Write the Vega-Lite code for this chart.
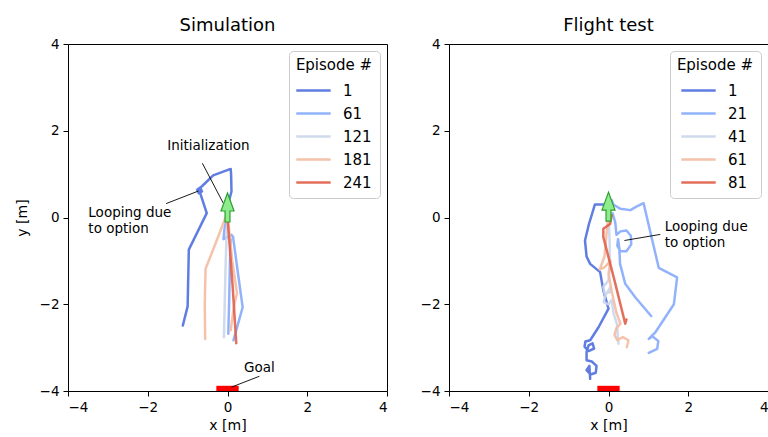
{
  "$schema": "https://vega.github.io/schema/vega-lite/v6.json",
  "padding": {"left": 14, "top": 16, "right": 0, "bottom": 0},
  "spacing": 31,
  "config": {
    "font": "DejaVu Sans",
    "view": {"stroke": "black", "strokeWidth": 1},
    "axis": {"grid": false, "domain": false, "tickColor": "black", "labelColor": "black", "titleColor": "black", "labelFontSize": 13.5, "titleFontSize": 14, "titleFontWeight": "normal", "tickSize": 5, "labelPadding": 4},
    "axisY": {"titlePadding": 10},
    "axisX": {"titlePadding": 5},
    "title": {"fontSize": 18, "fontWeight": "normal", "color": "black", "offset": 2},
    "legend": {"orient": "top-right", "offset": 7, "padding": 7, "fillColor": "white", "strokeColor": "#cccccc", "cornerRadius": 4, "titleFontSize": 15, "labelFontSize": 15, "titleFontWeight": "normal", "titleColor": "black", "labelColor": "black", "symbolType": "M-1.15,0L1.45,0", "symbolStrokeWidth": 2.5, "symbolSize": 700, "rowPadding": 0, "labelOffset": 17, "titleAnchor": "middle", "titlePadding": 3}
  },
  "resolve": {"scale": {"color": "independent", "strokeWidth": "independent"}, "legend": {"color": "independent"}},
  "hconcat": [
    {
      "width": 319,
      "height": 347,
      "title": "Simulation",
      "layer": [
        {
          "data": {"values": [
            {"ep": 1, "seg": "a", "i": 0, "x": 0.0, "y": 0.25},
            {"ep": 1, "seg": "a", "i": 1, "x": 0.1, "y": 0.6},
            {"ep": 1, "seg": "a", "i": 2, "x": 0.09, "y": 1.0},
            {"ep": 1, "seg": "a", "i": 3, "x": 0.08, "y": 1.12},
            {"ep": 1, "seg": "a", "i": 4, "x": -0.36, "y": 0.97},
            {"ep": 1, "seg": "a", "i": 5, "x": -0.64, "y": 0.72},
            {"ep": 1, "seg": "a", "i": 6, "x": -0.76, "y": 0.64},
            {"ep": 1, "seg": "a", "i": 7, "x": -0.72, "y": 0.56},
            {"ep": 1, "seg": "a", "i": 8, "x": -0.64, "y": 0.6},
            {"ep": 1, "seg": "a", "i": 9, "x": -0.68, "y": 0.68},
            {"ep": 1, "seg": "a", "i": 10, "x": -0.7, "y": 0.6},
            {"ep": 1, "seg": "a", "i": 11, "x": -0.52, "y": 0.1},
            {"ep": 1, "seg": "a", "i": 12, "x": -0.97, "y": -0.74},
            {"ep": 1, "seg": "a", "i": 13, "x": -1.0, "y": -2.05},
            {"ep": 1, "seg": "a", "i": 14, "x": -1.12, "y": -2.49},
            {"ep": 61, "seg": "a", "i": 0, "x": 0.0, "y": 0.2},
            {"ep": 61, "seg": "a", "i": 1, "x": -0.08, "y": -0.3},
            {"ep": 61, "seg": "a", "i": 2, "x": -0.1, "y": -0.5},
            {"ep": 61, "seg": "a", "i": 3, "x": 0.0, "y": -0.45},
            {"ep": 61, "seg": "a", "i": 4, "x": 0.1, "y": -0.4},
            {"ep": 61, "seg": "a", "i": 5, "x": 0.14, "y": -0.45},
            {"ep": 61, "seg": "a", "i": 6, "x": 0.22, "y": -1.0},
            {"ep": 61, "seg": "a", "i": 7, "x": 0.38, "y": -2.07},
            {"ep": 61, "seg": "a", "i": 8, "x": 0.25, "y": -2.5},
            {"ep": 61, "seg": "a", "i": 9, "x": 0.15, "y": -2.83},
            {"ep": 61, "seg": "b", "i": 0, "x": 0.08, "y": -0.5},
            {"ep": 61, "seg": "b", "i": 1, "x": 0.06, "y": -1.07},
            {"ep": 61, "seg": "b", "i": 2, "x": 0.04, "y": -2.0},
            {"ep": 61, "seg": "b", "i": 3, "x": 0.02, "y": -2.68},
            {"ep": 121, "seg": "a", "i": 0, "x": 0.0, "y": 0.0},
            {"ep": 121, "seg": "a", "i": 1, "x": -0.02, "y": -0.3},
            {"ep": 121, "seg": "a", "i": 2, "x": -0.05, "y": -1.2},
            {"ep": 121, "seg": "a", "i": 3, "x": -0.09, "y": -2.76},
            {"ep": 181, "seg": "a", "i": 0, "x": -0.05, "y": 0.0},
            {"ep": 181, "seg": "a", "i": 1, "x": -0.3, "y": -0.6},
            {"ep": 181, "seg": "a", "i": 2, "x": -0.55, "y": -1.18},
            {"ep": 181, "seg": "a", "i": 3, "x": -0.57, "y": -2.0},
            {"ep": 181, "seg": "a", "i": 4, "x": -0.56, "y": -2.8},
            {"ep": 181, "seg": "b", "i": 0, "x": 0.02, "y": -0.1},
            {"ep": 181, "seg": "b", "i": 1, "x": 0.12, "y": -1.0},
            {"ep": 181, "seg": "b", "i": 2, "x": 0.24, "y": -1.75},
            {"ep": 181, "seg": "b", "i": 3, "x": 0.17, "y": -2.0},
            {"ep": 181, "seg": "b", "i": 4, "x": 0.08, "y": -2.6},
            {"ep": 241, "seg": "a", "i": 0, "x": 0.0, "y": 0.0},
            {"ep": 241, "seg": "a", "i": 1, "x": 0.05, "y": -0.6},
            {"ep": 241, "seg": "a", "i": 2, "x": 0.13, "y": -1.6},
            {"ep": 241, "seg": "a", "i": 3, "x": 0.22, "y": -2.9}
          ]},
          "mark": {"type": "line", "strokeCap": "round", "strokeJoin": "round", "opacity": 0.9},
          "encoding": {
            "x": {"field": "x", "type": "quantitative", "scale": {"domain": [-4, 4], "nice": false, "zero": false}, "axis": {"values": [-4, -2, 0, 2, 4], "title": "x [m]"}},
            "y": {"field": "y", "type": "quantitative", "scale": {"domain": [-4, 4], "nice": false, "zero": false}, "axis": {"values": [-4, -2, 0, 2, 4], "title": "y [m]"}},
            "color": {"field": "ep", "type": "ordinal", "scale": {"domain": [1, 61, 121, 181, 241], "range": ["#4f6fde", "#86abfb", "#cbd6ec", "#f4bca3", "#e0604a"]}, "legend": {"title": "Episode #"}},
            "strokeWidth": {"field": "ep", "type": "ordinal", "scale": {"domain": [1, 61, 121, 181, 241], "range": [2.5, 2.5, 2.5, 2.5, 5]}, "legend": null},
            "detail": {"field": "seg"},
            "order": {"field": "i", "type": "quantitative"}
          }
        },
        {
          "data": {"values": [{"x": -0.28, "x2": 0.28, "y": -4, "y2": -3.88}]},
          "mark": {"type": "rect", "color": "#ff0000"},
          "encoding": {
            "x": {"field": "x", "type": "quantitative"}, "x2": {"field": "x2"},
            "y": {"field": "y", "type": "quantitative"}, "y2": {"field": "y2"}
          }
        },
        {
          "data": {"values": [
            {"x": -0.63, "y": 1.25, "x2": -0.1, "y2": 0.32},
            {"x": -1.54, "y": 0.32, "x2": -0.73, "y2": 0.61},
            {"x": 0.8, "y": -3.66, "x2": 0.1, "y2": -3.91}
          ]},
          "mark": {"type": "rule", "color": "black", "strokeWidth": 0.9},
          "encoding": {
            "x": {"field": "x", "type": "quantitative"}, "x2": {"field": "x2"},
            "y": {"field": "y", "type": "quantitative"}, "y2": {"field": "y2"}
          }
        },
        {
          "data": {"values": [{"x": 0.0, "y": 0.23}]},
          "mark": {"type": "point", "shape": "M0,-1L0.45,0.24L0.17,0.24L0.17,1L-0.17,1L-0.17,0.24L-0.45,0.24Z", "size": 841, "filled": true, "fill": "#8eec8e", "stroke": "#2ca02c", "strokeWidth": 1.2, "opacity": 1},
          "encoding": {
            "x": {"field": "x", "type": "quantitative"},
            "y": {"field": "y", "type": "quantitative"}
          }
        },
        {
          "data": {"values": [
            {"x": -0.48, "y": 1.56, "t": "Initialization"},
            {"x": 0.8, "y": -3.56, "t": "Goal"}
          ]},
          "mark": {"type": "text", "align": "center", "baseline": "alphabetic", "fontSize": 13.5, "color": "black"},
          "encoding": {
            "x": {"field": "x", "type": "quantitative"},
            "y": {"field": "y", "type": "quantitative"},
            "text": {"field": "t"}
          }
        },
        {
          "data": {"values": [{"x": -3.49, "y": 0.02, "t": "Looping due\nto option"}]},
          "mark": {"type": "text", "align": "left", "baseline": "alphabetic", "fontSize": 13.5, "color": "black", "lineBreak": "\n", "lineHeight": 16},
          "encoding": {
            "x": {"field": "x", "type": "quantitative"},
            "y": {"field": "y", "type": "quantitative"},
            "text": {"field": "t"}
          }
        }
      ]
    },
    {
      "width": 319,
      "height": 347,
      "title": "Flight test",
      "layer": [
        {
          "data": {"values": [
            {"ep": 1, "seg": "a", "i": 0, "x": -0.05, "y": 0.3},
            {"ep": 1, "seg": "a", "i": 1, "x": -0.34, "y": 0.3},
            {"ep": 1, "seg": "a", "i": 2, "x": -0.49, "y": -0.15},
            {"ep": 1, "seg": "a", "i": 3, "x": -0.59, "y": -0.53},
            {"ep": 1, "seg": "a", "i": 4, "x": -0.55, "y": -0.9},
            {"ep": 1, "seg": "a", "i": 5, "x": -0.46, "y": -1.07},
            {"ep": 1, "seg": "a", "i": 6, "x": -0.21, "y": -1.26},
            {"ep": 1, "seg": "a", "i": 7, "x": -0.13, "y": -1.68},
            {"ep": 1, "seg": "a", "i": 8, "x": 0.0, "y": -2.1},
            {"ep": 1, "seg": "a", "i": 9, "x": -0.25, "y": -2.53},
            {"ep": 1, "seg": "a", "i": 10, "x": -0.46, "y": -2.83},
            {"ep": 1, "seg": "a", "i": 11, "x": -0.58, "y": -2.86},
            {"ep": 1, "seg": "a", "i": 12, "x": -0.6, "y": -2.98},
            {"ep": 1, "seg": "a", "i": 13, "x": -0.5, "y": -3.08},
            {"ep": 1, "seg": "a", "i": 14, "x": -0.36, "y": -3.02},
            {"ep": 1, "seg": "a", "i": 15, "x": -0.4, "y": -2.9},
            {"ep": 1, "seg": "a", "i": 16, "x": -0.5, "y": -2.95},
            {"ep": 1, "seg": "a", "i": 17, "x": -0.55, "y": -3.1},
            {"ep": 1, "seg": "a", "i": 18, "x": -0.55, "y": -3.29},
            {"ep": 1, "seg": "a", "i": 19, "x": -0.42, "y": -3.32},
            {"ep": 1, "seg": "a", "i": 20, "x": -0.3, "y": -3.42},
            {"ep": 1, "seg": "a", "i": 21, "x": -0.32, "y": -3.58},
            {"ep": 1, "seg": "a", "i": 22, "x": -0.45, "y": -3.62},
            {"ep": 1, "seg": "a", "i": 23, "x": -0.55, "y": -3.52},
            {"ep": 1, "seg": "a", "i": 24, "x": -0.48, "y": -3.42},
            {"ep": 1, "seg": "a", "i": 25, "x": -0.46, "y": -3.72},
            {"ep": 21, "seg": "a", "i": 0, "x": 0.08, "y": 0.4},
            {"ep": 21, "seg": "a", "i": 1, "x": 0.12, "y": 0.3},
            {"ep": 21, "seg": "a", "i": 2, "x": 0.3, "y": 0.2},
            {"ep": 21, "seg": "a", "i": 3, "x": 0.55, "y": 0.17},
            {"ep": 21, "seg": "a", "i": 4, "x": 0.7, "y": 0.25},
            {"ep": 21, "seg": "a", "i": 5, "x": 0.88, "y": 0.33},
            {"ep": 21, "seg": "a", "i": 6, "x": 1.26, "y": -1.16},
            {"ep": 21, "seg": "a", "i": 7, "x": 1.72, "y": -1.38},
            {"ep": 21, "seg": "a", "i": 8, "x": 1.64, "y": -2.0},
            {"ep": 21, "seg": "a", "i": 9, "x": 1.18, "y": -2.64},
            {"ep": 21, "seg": "a", "i": 10, "x": 1.01, "y": -2.8},
            {"ep": 21, "seg": "a", "i": 11, "x": 1.1, "y": -2.74},
            {"ep": 21, "seg": "a", "i": 12, "x": 1.25, "y": -2.85},
            {"ep": 21, "seg": "a", "i": 13, "x": 1.22, "y": -3.03},
            {"ep": 21, "seg": "a", "i": 14, "x": 1.01, "y": -3.12},
            {"ep": 21, "seg": "b", "i": 0, "x": 0.1, "y": 0.1},
            {"ep": 21, "seg": "b", "i": 1, "x": 0.17, "y": -0.11},
            {"ep": 21, "seg": "b", "i": 2, "x": 0.2, "y": -0.4},
            {"ep": 21, "seg": "b", "i": 3, "x": 0.3, "y": -0.32},
            {"ep": 21, "seg": "b", "i": 4, "x": 0.45, "y": -0.3},
            {"ep": 21, "seg": "b", "i": 5, "x": 0.56, "y": -0.42},
            {"ep": 21, "seg": "b", "i": 6, "x": 0.57, "y": -0.62},
            {"ep": 21, "seg": "b", "i": 7, "x": 0.45, "y": -0.78},
            {"ep": 21, "seg": "b", "i": 8, "x": 0.3, "y": -0.78},
            {"ep": 21, "seg": "b", "i": 9, "x": 0.22, "y": -0.65},
            {"ep": 21, "seg": "b", "i": 10, "x": 0.24, "y": -0.5},
            {"ep": 21, "seg": "b", "i": 11, "x": 0.27, "y": -0.7},
            {"ep": 21, "seg": "b", "i": 12, "x": 0.29, "y": -1.07},
            {"ep": 21, "seg": "b", "i": 13, "x": 0.42, "y": -1.53},
            {"ep": 21, "seg": "b", "i": 14, "x": 0.67, "y": -1.84},
            {"ep": 21, "seg": "b", "i": 15, "x": 1.07, "y": -2.27},
            {"ep": 41, "seg": "a", "i": 0, "x": 0.0, "y": 0.1},
            {"ep": 41, "seg": "a", "i": 1, "x": 0.03, "y": -0.6},
            {"ep": 41, "seg": "a", "i": 2, "x": 0.03, "y": -1.2},
            {"ep": 41, "seg": "a", "i": 3, "x": 0.0, "y": -1.45},
            {"ep": 41, "seg": "a", "i": 4, "x": -0.13, "y": -1.6},
            {"ep": 41, "seg": "a", "i": 5, "x": -0.1, "y": -1.75},
            {"ep": 41, "seg": "a", "i": 6, "x": 0.05, "y": -1.72},
            {"ep": 41, "seg": "a", "i": 7, "x": 0.05, "y": -1.6},
            {"ep": 41, "seg": "a", "i": 8, "x": -0.08, "y": -1.8},
            {"ep": 41, "seg": "a", "i": 9, "x": -0.12, "y": -1.95},
            {"ep": 41, "seg": "a", "i": 10, "x": 0.0, "y": -2.0},
            {"ep": 41, "seg": "a", "i": 11, "x": 0.08, "y": -1.9},
            {"ep": 41, "seg": "a", "i": 12, "x": 0.13, "y": -2.22},
            {"ep": 41, "seg": "a", "i": 13, "x": 0.21, "y": -2.45},
            {"ep": 41, "seg": "a", "i": 14, "x": 0.25, "y": -2.91},
            {"ep": 61, "seg": "a", "i": 0, "x": 0.0, "y": 0.1},
            {"ep": 61, "seg": "a", "i": 1, "x": -0.05, "y": -0.4},
            {"ep": 61, "seg": "a", "i": 2, "x": -0.1, "y": -0.9},
            {"ep": 61, "seg": "a", "i": 3, "x": -0.22, "y": -1.2},
            {"ep": 61, "seg": "a", "i": 4, "x": -0.1, "y": -1.15},
            {"ep": 61, "seg": "a", "i": 5, "x": 0.05, "y": -1.0},
            {"ep": 61, "seg": "a", "i": 6, "x": 0.0, "y": -1.3},
            {"ep": 61, "seg": "a", "i": 7, "x": 0.08, "y": -1.7},
            {"ep": 61, "seg": "a", "i": 8, "x": 0.2, "y": -2.2},
            {"ep": 61, "seg": "a", "i": 9, "x": 0.3, "y": -2.45},
            {"ep": 61, "seg": "a", "i": 10, "x": 0.2, "y": -2.55},
            {"ep": 61, "seg": "a", "i": 11, "x": 0.15, "y": -2.7},
            {"ep": 61, "seg": "a", "i": 12, "x": 0.22, "y": -2.83},
            {"ep": 61, "seg": "a", "i": 13, "x": 0.36, "y": -2.76},
            {"ep": 61, "seg": "a", "i": 14, "x": 0.5, "y": -2.83},
            {"ep": 61, "seg": "a", "i": 15, "x": 0.46, "y": -2.99},
            {"ep": 81, "seg": "a", "i": 0, "x": 0.08, "y": 0.05},
            {"ep": 81, "seg": "a", "i": 1, "x": 0.04, "y": -0.15},
            {"ep": 81, "seg": "a", "i": 2, "x": -0.13, "y": -0.26},
            {"ep": 81, "seg": "a", "i": 3, "x": -0.13, "y": -0.45},
            {"ep": 81, "seg": "a", "i": 4, "x": 0.15, "y": -1.45},
            {"ep": 81, "seg": "a", "i": 5, "x": 0.42, "y": -2.45},
            {"ep": 81, "seg": "a", "i": 6, "x": 0.45, "y": -2.35}
          ]},
          "mark": {"type": "line", "strokeCap": "round", "strokeJoin": "round", "opacity": 0.9},
          "encoding": {
            "x": {"field": "x", "type": "quantitative", "scale": {"domain": [-4, 4], "nice": false, "zero": false}, "axis": {"values": [-4, -2, 0, 2, 4], "title": "x [m]"}},
            "y": {"field": "y", "type": "quantitative", "scale": {"domain": [-4, 4], "nice": false, "zero": false}, "axis": {"values": [-4, -2, 0, 2, 4], "title": null}},
            "color": {"field": "ep", "type": "ordinal", "scale": {"domain": [1, 21, 41, 61, 81], "range": ["#4f6fde", "#86abfb", "#cbd6ec", "#f4bca3", "#e0604a"]}, "legend": {"title": "Episode #"}},
            "strokeWidth": {"field": "ep", "type": "ordinal", "scale": {"domain": [1, 21, 41, 61, 81], "range": [2.5, 2.5, 2.5, 2.5, 4.5]}, "legend": null},
            "detail": {"field": "seg"},
            "order": {"field": "i", "type": "quantitative"}
          }
        },
        {
          "data": {"values": [{"x": -0.28, "x2": 0.28, "y": -4, "y2": -3.88}]},
          "mark": {"type": "rect", "color": "#ff0000"},
          "encoding": {
            "x": {"field": "x", "type": "quantitative"}, "x2": {"field": "x2"},
            "y": {"field": "y", "type": "quantitative"}, "y2": {"field": "y2"}
          }
        },
        {
          "data": {"values": [
            {"x": 1.3, "y": -0.39, "x2": 0.4, "y2": -0.53}
          ]},
          "mark": {"type": "rule", "color": "black", "strokeWidth": 0.9},
          "encoding": {
            "x": {"field": "x", "type": "quantitative"}, "x2": {"field": "x2"},
            "y": {"field": "y", "type": "quantitative"}, "y2": {"field": "y2"}
          }
        },
        {
          "data": {"values": [{"x": 0.0, "y": 0.25}]},
          "mark": {"type": "point", "shape": "M0,-1L0.45,0.24L0.17,0.24L0.17,1L-0.17,1L-0.17,0.24L-0.45,0.24Z", "size": 841, "filled": true, "fill": "#8eec8e", "stroke": "#2ca02c", "strokeWidth": 1.2, "opacity": 1},
          "encoding": {
            "x": {"field": "x", "type": "quantitative"},
            "y": {"field": "y", "type": "quantitative"}
          }
        },
        {
          "data": {"values": [{"x": 1.41, "y": -0.3, "t": "Looping due\nto option"}]},
          "mark": {"type": "text", "align": "left", "baseline": "alphabetic", "fontSize": 13.5, "color": "black", "lineBreak": "\n", "lineHeight": 16},
          "encoding": {
            "x": {"field": "x", "type": "quantitative"},
            "y": {"field": "y", "type": "quantitative"},
            "text": {"field": "t"}
          }
        }
      ]
    }
  ]
}
